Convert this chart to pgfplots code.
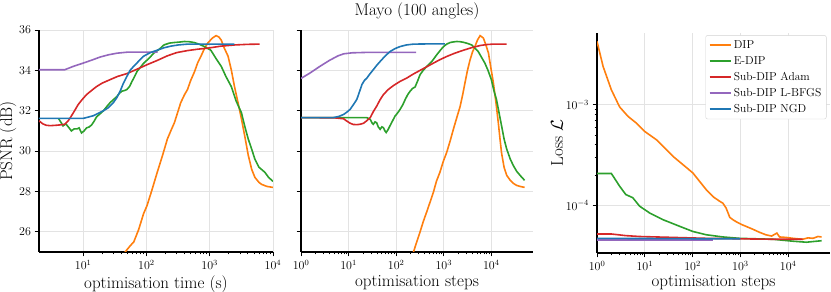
\documentclass[border=0pt]{standalone}
\usepackage{fontspec}
\usepackage{pgfplots}
\pgfplotsset{compat=1.18}
\definecolor{cO}{HTML}{FF7F0E}
\definecolor{cG}{HTML}{2CA02C}
\definecolor{cR}{HTML}{D62728}
\definecolor{cP}{HTML}{9467BD}
\definecolor{cB}{HTML}{1F77B4}
\pgfplotsset{
  mystyle/.style={
    scale only axis,
    axis lines=left,
    axis line style={-, line width=1.2pt},
    tick align=outside,
    tick style={black, line width=0.8pt},
    major tick length=4.5pt,
    minor tick length=2.5pt,
    xminorticks=true,
    grid=major,
    major grid style={gray!22, line width=0.9pt},
    tick label style={font=\fontsize{12}{14}\selectfont},
    label style={font=\fontsize{17}{19}\selectfont},
    every axis plot/.append style={line width=1.6pt, no marks},
    clip=true,
  },
}
\begin{document}
\begin{tikzpicture}
\path[use as bounding box] (0,0) rectangle (831pt,292pt);
\node[font=\fontsize{17}{19}\selectfont] at (417pt,281pt) {Mayo (100 angles)};
% Panel 1
\begin{axis}[mystyle, at={(39pt,40pt)}, anchor=south west, width=234pt, height=222pt,
  xmode=log, xmin=2, xmax=10000, ymin=25, ymax=36,
  ytick={26,28,30,32,34,36}, xtick={10,100,1000,10000},
  xlabel={optimisation time (s)}, ylabel={PSNR (dB)},
  xlabel style={yshift=1pt}, ylabel style={yshift=-4pt}]
\addplot[cO] coordinates {(40,24.7)(46,25.0)(55,25.3)(63,25.5)(75,26.1)(90,26.9)(102,27.3)(120,28.0)(148,28.95)(180,29.8)(214,30.6)(250,31.1)(276,31.4)(310,31.9)(348,32.4)(400,32.8)(445,33.05)(500,33.5)(569,33.9)(650,34.4)(727,34.7)(830,35.1)(930,35.35)(1100,35.6)(1260,35.72)(1400,35.65)(1520,35.5)(1700,35.1)(1950,34.7)(2200,34.0)(2460,33.2)(2800,32.4)(3170,31.6)(3600,30.7)(4060,29.8)(4600,29.1)(5170,28.7)(6000,28.45)(6620,28.35)(8000,28.25)(10000,28.2)};
\addplot[cG] coordinates {(4.1,31.6)(4.5,31.4)(4.8,31.25)(5.3,31.35)(5.8,31.2)(6.5,31.0)(7.2,31.1)(8.0,31.1)(8.6,31.15)(9.4,30.9)(10.3,31.0)(11.3,31.15)(12.5,31.2)(13.6,31.3)(15,31.5)(16.3,31.7)(18.5,31.85)(20.9,32.0)(23.5,32.2)(26.6,32.4)(30,32.55)(34,32.7)(37,32.85)(40.9,32.97)(45,33.0)(49,33.05)(54,33.2)(59,33.45)(65,33.7)(71,33.95)(80,34.15)(90.6,34.36)(110,34.6)(130,34.85)(160,35.05)(189,35.26)(230,35.35)(274,35.38)(330,35.4)(395,35.43)(470,35.42)(569,35.38)(700,35.28)(822,35.18)(1040,35.0)(1250,34.6)(1520,34.2)(1800,33.7)(2190,33.2)(2600,32.5)(3170,31.9)(3600,31.2)(4060,30.6)(4600,30.1)(5170,29.6)(6000,29.2)(7440,28.95)(8500,28.7)(10000,28.5)};
\addplot[cR] coordinates {(2,31.5)(2.3,31.35)(2.6,31.28)(3.0,31.26)(3.75,31.28)(4.4,31.3)(5.1,31.33)(5.8,31.5)(6.5,31.74)(7.3,32.0)(8.3,32.3)(9.6,32.55)(11.3,32.8)(13.5,33.0)(16.3,33.2)(20,33.37)(26.6,33.54)(35,33.7)(49,33.84)(70,34.05)(102,34.28)(150,34.5)(214,34.72)(300,34.88)(445,34.98)(650,35.05)(930,35.1)(1500,35.2)(2500,35.26)(4000,35.29)(6130,35.3)};
\addplot[cP] coordinates {(2,34.03)(5.1,34.03)(7,34.2)(10,34.36)(14,34.52)(18.5,34.66)(25,34.77)(34,34.85)(49,34.9)(150,34.9)};
\addplot[cB] coordinates {(2,31.62)(10,31.62)(14.4,31.75)(20.9,32.0)(25,32.15)(30,32.4)(34,32.65)(38.4,32.97)(43,33.35)(49,33.7)(55,34.0)(62.8,34.2)(75,34.45)(90,34.7)(115,34.88)(148,35.0)(190,35.12)(242,35.2)(320,35.26)(445,35.3)(2460,35.3)};
\end{axis}
% Panel 2
\begin{axis}[mystyle, at={(301pt,40pt)}, anchor=south west, width=232pt, height=222pt,
  xmode=log, xmin=1, xmax=75000, ymin=25, ymax=36,
  ytick={26,28,30,32,34,36}, yticklabels={}, xtick={1,10,100,1000,10000},
  xlabel={optimisation steps}, xlabel style={yshift=1pt}]
\addplot[cO] coordinates {(200,24.5)(231,25.0)(270,25.5)(318,26.0)(370,26.5)(440,27.0)(520,27.5)(607,27.97)(700,28.5)(830,28.95)(980,29.5)(1150,29.93)(1360,30.5)(1600,31.1)(1900,31.7)(2200,32.2)(2500,32.8)(2800,33.4)(3150,34.0)(3550,34.5)(4000,34.9)(4550,35.2)(5100,35.5)(5800,35.72)(6800,35.6)(7700,35.25)(8700,34.85)(9800,34.1)(11000,33.4)(12500,32.4)(14000,31.4)(15200,30.6)(16400,29.9)(18500,29.2)(21000,28.8)(25000,28.55)(29000,28.4)(34000,28.3)(40000,28.25)(50000,28.2)};
\addplot[cG] coordinates {(1,31.66)(24,31.66)(28.5,31.57)(31,31.4)(33,31.33)(36,31.45)(39,31.4)(42,31.2)(46,31.08)(50,31.2)(54,31.16)(58,31.0)(61.6,30.92)(67,31.05)(74,31.25)(84,31.5)(95,31.74)(108,31.9)(121,32.07)(138,32.3)(155,32.56)(175,32.8)(197,32.97)(220,33.1)(250,33.18)(285,33.5)(318,33.79)(370,34.0)(440,34.2)(500,34.33)(560,34.44)(630,34.6)(710,34.77)(850,35.0)(990,35.18)(1150,35.3)(1360,35.38)(1600,35.41)(1880,35.43)(2200,35.42)(2600,35.39)(3200,35.33)(3850,35.26)(4500,35.1)(5300,34.93)(6200,34.65)(7300,34.36)(8500,34.0)(10000,33.54)(11300,33.0)(12800,32.56)(14500,31.9)(16400,31.25)(18500,30.6)(21000,30.1)(25000,29.6)(29000,29.28)(34000,29.0)(40000,28.8)(50000,28.55)};
\addplot[cR] coordinates {(1,31.66)(5,31.65)(7.9,31.6)(9,31.5)(10.8,31.38)(12.5,31.32)(14.9,31.31)(17.5,31.33)(20.6,31.38)(24,31.5)(28.5,31.66)(33,31.95)(39,32.23)(46,32.55)(54,32.8)(68,33.05)(88,33.25)(120,33.45)(167,33.62)(230,33.82)(318,34.0)(440,34.18)(607,34.36)(830,34.53)(1160,34.69)(1700,34.85)(2600,35.0)(3800,35.12)(5800,35.23)(8000,35.28)(11000,35.3)(21000,35.3)};
\addplot[cP] coordinates {(1,33.6)(1.5,33.85)(2.5,34.2)(4,34.5)(6,34.72)(7.9,34.82)(12,34.87)(24,34.89)(263,34.89)};
\addplot[cB] coordinates {(1,31.66)(4.8,31.66)(6.3,31.72)(7.9,31.82)(9.2,31.93)(10.8,32.07)(12.6,32.3)(14.9,32.56)(17,32.95)(19.1,33.3)(21.5,33.5)(24.2,33.62)(28,33.82)(33,34.03)(39,34.25)(46,34.44)(58,34.7)(74,34.93)(95,35.08)(121,35.18)(165,35.26)(231,35.3)(440,35.31)(1060,35.31)};
\end{axis}
% Panel 3
\begin{axis}[mystyle, at={(597pt,39pt)}, anchor=south west, width=233pt, height=220pt,
  xmode=log, ymode=log, xmin=1, xmax=75000, ymin=3.36e-5, ymax=5.15e-3,
  xtick={1,10,100,1000,10000}, ytick={1e-4,1e-3}, yminorticks=true,
  xlabel={optimisation steps}, ylabel={Loss $\mathcal{L}$},
  xlabel style={yshift=2pt}, ylabel style={yshift=-4pt},
  legend style={at={(0.985,0.99)}, anchor=north east, draw=gray!35, rounded corners=2pt,
    font=\fontsize{11.5}{13}\selectfont, cells={anchor=west}, row sep=2.5pt, inner sep=3pt},
  legend image code/.code={\draw[#1, line width=1.8pt] (0pt,0pt) -- (0.75cm,0pt);}]
\addplot[cO] coordinates {(1,4.25e-3)(1.34,2.4e-3)(1.99,1.41e-3)(2.97,9.5e-4)(4.44,7.66e-4)(6.6,6.58e-4)(9.9,5.43e-4)(17.4,4.49e-4)(38.8,3.07e-4)(101,2.1e-4)(193,1.43e-4)(280,1.2e-4)(366,1.1e-4)(430,1.05e-4)(502,9.4e-5)(600,7.6e-5)(695,7.2e-5)(850,6.8e-5)(1100,6.4e-5)(1400,6.1e-5)(1800,5.8e-5)(2500,5.4e-5)(3400,5.1e-5)(4500,4.95e-5)(5800,5.3e-5)(6600,4.85e-5)(9000,4.8e-5)(12600,4.7e-5)(20000,4.6e-5)(26000,4.75e-5)(33000,4.7e-5)(42000,4.9e-5)(50000,4.85e-5)};
\addlegendentry{DIP}
\addplot[cG] coordinates {(1,2.07e-4)(2,2.07e-4)(2.97,1.55e-4)(4,1.28e-4)(5.6,1.19e-4)(7.8,9.8e-5)(12.6,8.4e-5)(24,7.2e-5)(53,6.2e-5)(101,5.5e-5)(193,5.1e-5)(430,4.85e-5)(960,4.7e-5)(4800,4.6e-5)(12600,4.4e-5)(24000,4.3e-5)(50000,4.45e-5)};
\addlegendentry{E-DIP}
\addplot[cR] coordinates {(1,5.19e-5)(2,5.19e-5)(4,5.0e-5)(7.8,4.9e-5)(38.8,4.8e-5)(193,4.7e-5)(960,4.65e-5)(4800,4.6e-5)(20000,4.6e-5)};
\addlegendentry{Sub-DIP Adam}
\addplot[cP] coordinates {(1,4.55e-5)(10,4.55e-5)(100,4.55e-5)(263,4.55e-5)};
\addlegendentry{Sub-DIP L-BFGS}
\addplot[cB] coordinates {(1,4.7e-5)(10,4.68e-5)(100,4.66e-5)(1000,4.65e-5)};
\addlegendentry{Sub-DIP NGD}
\end{axis}
\end{tikzpicture}
\end{document}
